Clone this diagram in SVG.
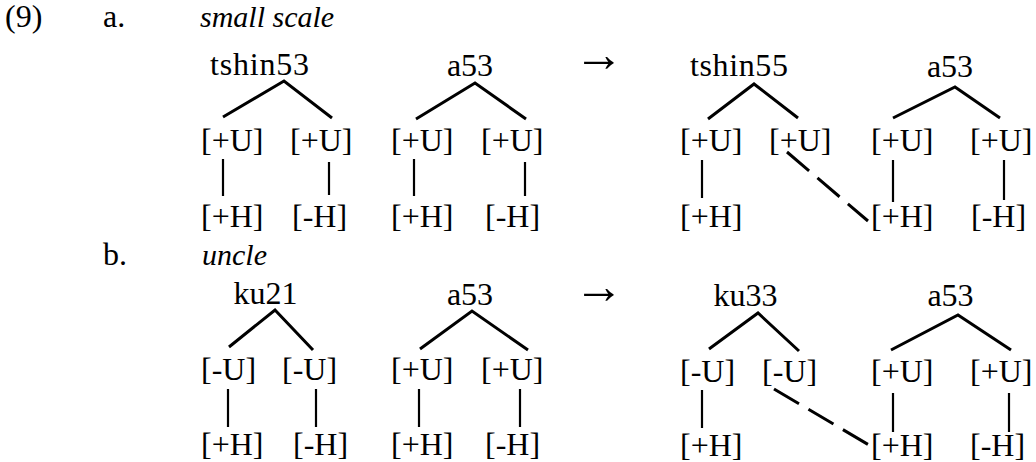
<svg xmlns="http://www.w3.org/2000/svg" width="1036" height="462" viewBox="0 0 1036 462">
<style>
text{font-family:"Liberation Serif","Times New Roman",serif;fill:#000;font-size:32px}
.it{font-style:italic;font-size:30px}
.lab{text-anchor:middle}
.arr{font-size:50px;text-anchor:middle}
.br{stroke:#000;stroke-width:3;stroke-linecap:butt;fill:none}
.vl{stroke:#000;stroke-width:2.2;fill:none}
.ds{stroke:#000;stroke-width:3;fill:none;stroke-dasharray:29 11}
</style>
<rect width="1036" height="462" fill="#fff"/>
<g id="titles">
<text x="5" y="27">(9)</text>
<text x="103" y="27">a.</text>
<text class="it" x="200" y="27">small scale</text>
<text x="103" y="265">b.</text>
<text class="it" x="202" y="265">uncle</text>
<text x="599" y="71" class="arr">→</text>
<text x="599" y="303" class="arr">→</text>
</g>
<g id="a-left-word1">
<text class="lab" x="259.5" y="75" textLength="99">tshin53</text>
<text x="201" y="151">[+U]</text><text x="290" y="151">[+U]</text>
<text x="201" y="227">[+H]</text><text x="292" y="227">[-H]</text>
</g>
<g id="a-left-word2">
<text class="lab" x="470" y="76">a53</text>
<text x="391" y="151">[+U]</text><text x="481" y="151">[+U]</text>
<text x="391" y="227">[+H]</text><text x="485" y="227">[-H]</text>
</g>
<g id="a-right-word1">
<text class="lab" x="739" y="76" textLength="98">tshin55</text>
<text x="680" y="151">[+U]</text><text x="769" y="151">[+U]</text>
<text x="680" y="227">[+H]</text>
</g>
<g id="a-right-word2">
<text class="lab" x="950" y="77">a53</text>
<text x="871" y="151">[+U]</text><text x="970" y="151">[+U]</text>
<text x="871" y="227">[+H]</text><text x="971" y="227">[-H]</text>
</g>
<g id="b-left-word1">
<text class="lab" x="265.5" y="304">ku21</text>
<text x="201" y="380">[-U]</text><text x="282" y="380">[-U]</text>
<text x="201" y="455">[+H]</text><text x="293" y="455">[-H]</text>
</g>
<g id="b-left-word2">
<text class="lab" x="470" y="305">a53</text>
<text x="391" y="380">[+U]</text><text x="481" y="380">[+U]</text>
<text x="391" y="455">[+H]</text><text x="485" y="455">[-H]</text>
</g>
<g id="b-right-word1">
<text class="lab" x="745.5" y="306">ku33</text>
<text x="680" y="382">[-U]</text><text x="762" y="382">[-U]</text>
<text x="680" y="456">[+H]</text>
</g>
<g id="b-right-word2">
<text class="lab" x="950.5" y="306">a53</text>
<text x="871" y="382">[+U]</text><text x="970" y="382">[+U]</text>
<text x="871" y="456">[+H]</text><text x="970" y="456">[-H]</text>
</g>
<g id="connectors">
<polyline class="br" points="223,117 284,81 332,118"/>
<polyline class="br" points="416,119 475,83 526,119"/>
<polyline class="br" points="708,119 754,84 798,118"/>
<polyline class="br" points="893,118 955,87 1000,118"/>
<polyline class="br" points="229,347 275,310 313,350"/>
<polyline class="br" points="420,349 472,311 528,350"/>
<polyline class="br" points="709,349 758,313 799,351"/>
<polyline class="br" points="891,350 958,315 1011,350"/>
<line class="vl" x1="223" y1="159" x2="223" y2="196"/>
<line class="vl" x1="329" y1="162" x2="329" y2="195"/>
<line class="vl" x1="414" y1="159" x2="414" y2="196"/>
<line class="vl" x1="525" y1="162" x2="525" y2="196"/>
<line class="vl" x1="702" y1="160" x2="702" y2="198"/>
<line class="vl" x1="893" y1="160" x2="893" y2="202"/>
<line class="vl" x1="1004" y1="160" x2="1004" y2="200"/>
<line class="vl" x1="228" y1="389" x2="228" y2="427"/>
<line class="vl" x1="316" y1="389" x2="316" y2="427"/>
<line class="vl" x1="419" y1="389" x2="419" y2="427"/>
<line class="vl" x1="520" y1="389" x2="520" y2="427"/>
<line class="vl" x1="702" y1="390" x2="702" y2="428"/>
<line class="vl" x1="893" y1="393" x2="893" y2="432"/>
<line class="vl" x1="1009" y1="393" x2="1009" y2="432"/>
<line class="ds" x1="787" y1="152" x2="868" y2="221"/>
<line class="ds" x1="774" y1="389" x2="869" y2="445"/>
</g>
</svg>
